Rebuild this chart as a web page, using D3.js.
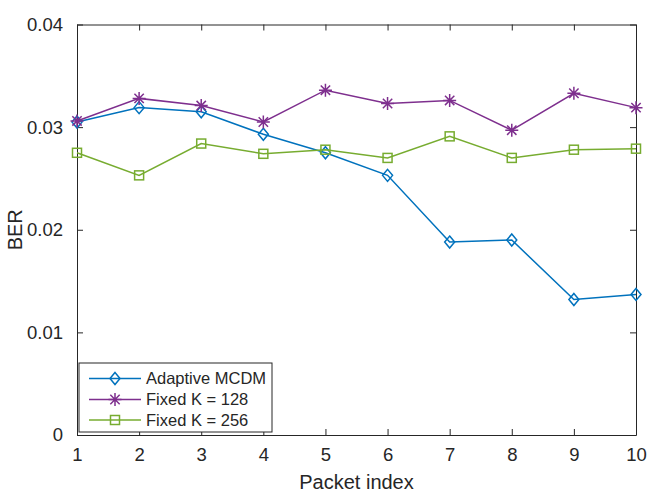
<!DOCTYPE html>
<html><head><meta charset="utf-8">
<script src="https://cdn.jsdelivr.net/npm/d3@7"></script>
<style>body{margin:0;background:#fff}svg{display:block}text{font-family:"Liberation Sans",Arial,sans-serif;fill:#262626}</style>
</head><body>
<script>
const packets = [1,2,3,4,5,6,7,8,9,10];
const adaptive = [0.0305,0.0319,0.0315,0.0293,0.0275,0.0253,0.0188,0.0190,0.0132,0.0137];
const fixed128 = [0.0306,0.0328,0.0321,0.0305,0.0336,0.0323,0.0326,0.0297,0.0333,0.0319];
const fixed256 = [0.0275,0.0253,0.0284,0.0274,0.0278,0.0270,0.0291,0.0270,0.0278,0.0279];
const yTicks = [0,0.01,0.02,0.03,0.04];
const yTickLabels = ["0","0.01","0.02","0.03","0.04"];
const seriesNames = ["Adaptive MCDM","Fixed K = 128","Fixed K = 256"];
const seriesColors = ["#0072BD","#7E2F8E","#77AC30"];
const seriesMarkers = ["diamond","star","square"];
const seriesData = [adaptive, fixed128, fixed256];

const W=665,H=500;
const L=77,R=636,T=24.5,B=435;
const svg=d3.select("body").append("svg").attr("width",W).attr("height",H);
const x=d3.scaleLinear().domain([1,10]).range([L,R]);
const y=d3.scaleLinear().domain([0,0.04]).range([B,T]);
const axCol="#262626";

// axes with inside ticks on all four sides
const tl=6;
svg.append("g").attr("transform",`translate(0,${B})`)
  .call(d3.axisBottom(x).tickValues(packets).tickFormat(d3.format("d")).tickSizeInner(-tl).tickSizeOuter(0).tickPadding(13))
  .call(g=>{g.select(".domain").attr("stroke",axCol);g.selectAll("line").attr("stroke",axCol);g.selectAll("text").attr("font-size","18.5px").attr("fill",axCol).style("font-family","Liberation Sans, Arial");});
svg.append("g").attr("transform",`translate(0,${T})`)
  .call(d3.axisTop(x).tickValues(packets).tickFormat("").tickSizeInner(-tl).tickSizeOuter(0))
  .call(g=>{g.select(".domain").attr("stroke",axCol);g.selectAll("line").attr("stroke",axCol);});
svg.append("g").attr("transform",`translate(${L},0)`)
  .call(d3.axisLeft(y).tickValues(yTicks).tickFormat((d,i)=>yTickLabels[i]).tickSizeInner(-tl).tickSizeOuter(0).tickPadding(14))
  .call(g=>{g.select(".domain").attr("stroke",axCol);g.selectAll("line").attr("stroke",axCol);g.selectAll("text").attr("font-size","18.5px").attr("fill",axCol).style("font-family","Liberation Sans, Arial");});
svg.append("g").attr("transform",`translate(${R},0)`)
  .call(d3.axisRight(y).tickValues(yTicks).tickFormat("").tickSizeInner(-tl).tickSizeOuter(0))
  .call(g=>{g.select(".domain").attr("stroke",axCol);g.selectAll("line").attr("stroke",axCol);});

svg.append("text").attr("x",(L+R)/2).attr("y",489).attr("text-anchor","middle").attr("font-size","20px").text("Packet index");
svg.append("text").attr("transform",`translate(22,${(T+B)/2}) rotate(-90)`).attr("text-anchor","middle").attr("font-size","20px").text("BER");

function drawMarker(g,type,cx,cy,color){
  if(type==="diamond"){
    g.append("path").attr("d",`M${cx},${cy-6}L${cx+5},${cy}L${cx},${cy+6}L${cx-5},${cy}Z`).attr("fill","none").attr("stroke",color).attr("stroke-width",1.5);
  } else if(type==="square"){
    g.append("rect").attr("x",cx-4.5).attr("y",cy-4.5).attr("width",9).attr("height",9).attr("fill","none").attr("stroke",color).attr("stroke-width",1.5);
  } else {
    const r=6.5;
    let d=`M${cx-r},${cy}L${cx+r},${cy}M${cx},${cy-r}L${cx},${cy+r}`;
    const k=r*0.72;
    d+=`M${cx-k},${cy-k}L${cx+k},${cy+k}M${cx-k},${cy+k}L${cx+k},${cy-k}`;
    g.append("path").attr("d",d).attr("stroke",color).attr("stroke-width",1.5).attr("fill","none");
  }
}

const line=d3.line().x((d,i)=>x(packets[i])).y(d=>y(d));
seriesData.forEach((data,s)=>{
  const g=svg.append("g");
  g.append("path").attr("d",line(data)).attr("fill","none").attr("stroke",seriesColors[s]).attr("stroke-width",1.5);
  data.forEach((v,i)=>drawMarker(g,seriesMarkers[s],x(packets[i]),y(v),seriesColors[s]));
});

// legend
const lg=svg.append("g");
lg.append("rect").attr("x",79).attr("y",363).attr("width",193).attr("height",69).attr("fill","#fff").attr("stroke",axCol).attr("stroke-width",1);
const rows=[378.5,399.5,420];
seriesNames.forEach((n,s)=>{
  lg.append("line").attr("x1",89).attr("x2",141).attr("y1",rows[s]).attr("y2",rows[s]).attr("stroke",seriesColors[s]).attr("stroke-width",1.5);
  drawMarker(lg,seriesMarkers[s],115,rows[s],seriesColors[s]);
  lg.append("text").attr("x",146).attr("y",rows[s]).attr("dy","0.36em").attr("font-size","16.5px").text(n);
});
</script>
</body></html>
